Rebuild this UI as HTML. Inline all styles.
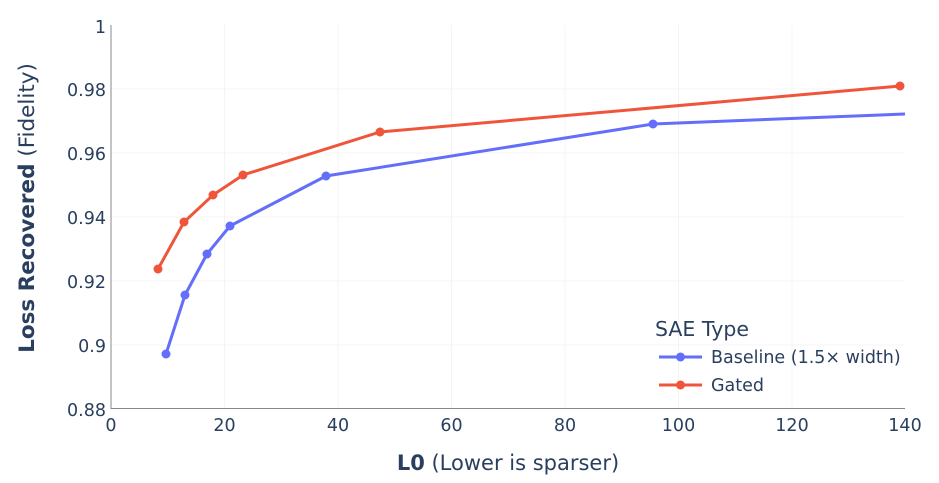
<!DOCTYPE html>
<html><head><meta charset="utf-8"><style>
html,body{margin:0;padding:0;background:#fff;}
svg{display:block;font-family:"DejaVu Sans","Liberation Sans",sans-serif;}
</style></head><body>
<svg width="939" height="483" viewBox="0 0 939 483">
<g stroke="#f4f4f6" stroke-width="1">
<line x1="224.5" y1="25" x2="224.5" y2="408"/><line x1="338" y1="25" x2="338" y2="408"/>
<line x1="451.5" y1="25" x2="451.5" y2="408"/><line x1="565" y1="25" x2="565" y2="408"/>
<line x1="678.5" y1="25" x2="678.5" y2="408"/><line x1="792" y1="25" x2="792" y2="408"/>
<line x1="111" y1="89" x2="905" y2="89"/><line x1="111" y1="153" x2="905" y2="153"/>
<line x1="111" y1="217" x2="905" y2="217"/><line x1="111" y1="281" x2="905" y2="281"/>
<line x1="111" y1="345" x2="905" y2="345"/>
</g>
<line x1="111" y1="25" x2="111" y2="409" stroke="#888" stroke-width="1"/>
<line x1="111" y1="408.5" x2="905" y2="408.5" stroke="#888" stroke-width="1"/>
<g fill="#2a3f5f" font-size="17.5" text-anchor="end">
<text x="106" y="33">1</text><text x="106" y="96">0.98</text><text x="106" y="160">0.96</text>
<text x="106" y="224">0.94</text><text x="106" y="288">0.92</text><text x="106" y="352">0.9</text>
<text x="106" y="416">0.88</text>
</g>
<g fill="#2a3f5f" font-size="17.5" text-anchor="middle">
<text x="111" y="431">0</text><text x="224.5" y="431">20</text><text x="338" y="431">40</text>
<text x="451.5" y="431">60</text><text x="565" y="431">80</text><text x="678.5" y="431">100</text>
<text x="792" y="431">120</text><text x="905" y="431">140</text>
</g>
<text x="508" y="470" fill="#2a3f5f" font-size="21" text-anchor="middle"><tspan font-weight="bold">L0</tspan> (Lower is sparser)</text>
<text transform="translate(34,208) rotate(-90)" fill="#2a3f5f" font-size="21.5" text-anchor="middle"><tspan font-weight="bold">Loss Recovered</tspan> (Fidelity)</text>
<polyline fill="none" stroke="#636efa" stroke-width="3" points="166,354 185,295 207,254 230,226 326,176 653,124 905,114"/>
<polyline fill="none" stroke="#ef553b" stroke-width="3" points="158,269 184,222 213,195 243,175 380,132 900,86"/>
<g fill="#636efa"><circle cx="166" cy="354" r="4.5"/><circle cx="185" cy="295" r="4.5"/><circle cx="207" cy="254" r="4.5"/><circle cx="230" cy="226" r="4.5"/><circle cx="326" cy="176" r="4.5"/><circle cx="653" cy="124" r="4.5"/></g>
<g fill="#ef553b"><circle cx="158" cy="269" r="4.5"/><circle cx="184" cy="222" r="4.5"/><circle cx="213" cy="195" r="4.5"/><circle cx="243" cy="175" r="4.5"/><circle cx="380" cy="132" r="4.5"/><circle cx="900" cy="86" r="4.5"/></g>
<text x="655" y="336" fill="#2a3f5f" font-size="20.5">SAE Type</text>
<line x1="659" y1="357" x2="702" y2="357" stroke="#636efa" stroke-width="3"/><circle cx="680.5" cy="357" r="4.5" fill="#636efa"/>
<text x="711" y="363" fill="#2a3f5f" font-size="17.5">Baseline (1.5× width)</text>
<line x1="659" y1="385" x2="702" y2="385" stroke="#ef553b" stroke-width="3"/><circle cx="680.5" cy="385" r="4.5" fill="#ef553b"/>
<text x="711" y="391" fill="#2a3f5f" font-size="17.5">Gated</text>
</svg>
</body></html>
